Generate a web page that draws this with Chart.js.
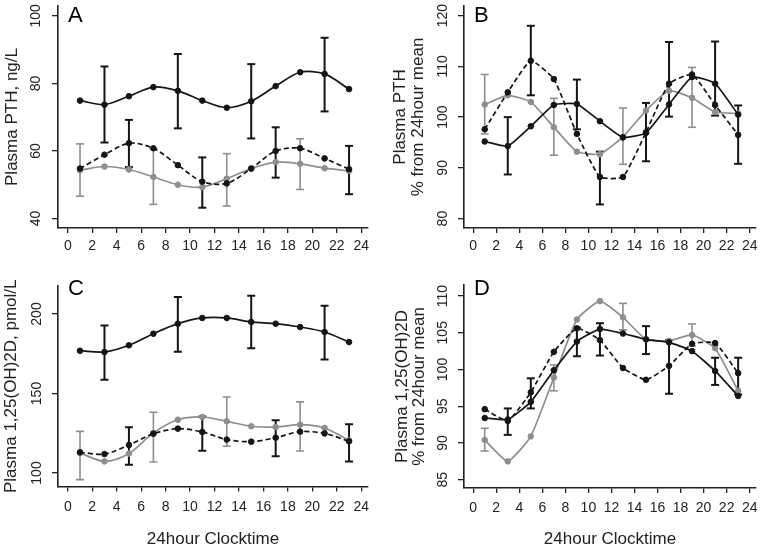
<!DOCTYPE html>
<html>
<head>
<meta charset="utf-8">
<script src="https://cdn.jsdelivr.net/npm/chart.js@4.4.1/dist/chart.umd.min.js"></script>
<style>
  html, body { margin: 0; padding: 0; background: #fff; overflow: hidden; }
  #wrap { position: relative; width: 762px; height: 546px; }
  canvas { position: absolute; }
</style>
</head>
<body>
<div id="wrap">
  <canvas id="pA" width="381" height="273" style="left:0;top:0"></canvas>
  <canvas id="pB" width="381" height="273" style="left:381px;top:0"></canvas>
  <canvas id="pC" width="381" height="273" style="left:0;top:273px"></canvas>
  <canvas id="pD" width="381" height="273" style="left:381px;top:273px"></canvas>
</div>
<script>
// clock hours of sampling, and axis ticks
const hours = [1, 3, 5, 7, 9, 11, 13, 15, 17, 19, 21, 23];
const xTicks = [0, 2, 4, 6, 8, 10, 12, 14, 16, 18, 20, 22, 24];
const solidErrHours = [3, 9, 15, 21];
const dashedErrHours = [5, 11, 17, 23];
const grayErrHours = [1, 7, 13, 19];

// A: plasma PTH ng/L
const aTicks = [40, 60, 80, 100];
const aSolid = [74.9, 73.7, 76.2, 78.9, 77.8, 74.9, 72.8, 74.7, 79.2, 83.3, 82.8, 78.3];
const aDashed = [54.8, 58.9, 62.3, 60.8, 55.8, 50.9, 50.4, 54.8, 60.0, 60.8, 57.8, 54.6];
const aGray = [54.3, 55.4, 54.5, 52.3, 50.0, 49.3, 51.8, 54.8, 56.7, 56.2, 54.9, 54.1];
const aSolidLo = [62.5, 66.7, 63.7, 71.7], aSolidHi = [85.0, 88.7, 85.7, 93.5];
const aDashedLo = [55.2, 43.2, 52.1, 47.2], aDashedHi = [69.2, 58.1, 67.0, 61.5];
const aGrayLo = [46.6, 44.2, 43.7, 48.6], aGrayHi = [62.1, 60.7, 59.2, 63.6];

// B: PTH % from 24h mean
const bTicks = [80, 90, 100, 110, 120];
const bSolid = [95.2, 94.3, 98.2, 102.4, 102.6, 99.2, 96.0, 96.9, 102.5, 107.9, 106.6, 100.5];
const bDashed = [97.6, 104.9, 111.1, 107.5, 96.7, 88.2, 88.2, 97.0, 106.6, 108.4, 102.4, 96.5];
const bGray = [102.5, 104.3, 103.0, 98.0, 93.2, 92.7, 96.1, 101.3, 105.2, 103.8, 101.0, 100.7];
const bSolidLo = [88.7, 97.6, 91.3, 100.3], bSolidHi = [100.0, 107.4, 102.8, 114.9];
const bDashedLo = [104.3, 82.8, 100.1, 90.8], bDashedHi = [118.0, 93.2, 114.8, 102.3];
const bGrayLo = [96.7, 92.5, 90.7, 98.0], bGrayHi = [108.4, 103.7, 101.8, 109.8];

// C: plasma 1,25(OH)2D pmol/L
const cTicks = [100, 150, 200];
const cSolid = [176.9, 176.1, 180.3, 187.6, 193.9, 197.5, 197.5, 195.0, 193.9, 191.8, 188.7, 182.4];
const cDashed = [113.0, 111.9, 117.6, 124.7, 127.9, 125.8, 121.0, 119.7, 122.2, 126.0, 124.9, 119.9];
const cGray = [112.6, 107.3, 112.2, 125.2, 133.5, 135.2, 132.5, 129.4, 128.9, 130.4, 128.3, 120.5];
const cSolidLo = [158.7, 176.3, 178.4, 171.3], cSolidHi = [192.7, 210.7, 211.5, 205.2];
const cDashedLo = [105.2, 114.0, 110.5, 107.3], cDashedHi = [128.7, 135.6, 133.1, 130.6];
const cGrayLo = [95.8, 106.9, 116.8, 113.8], cGrayHi = [126.2, 138.2, 147.8, 144.7];

// D: 1,25(OH)2D % from 24h mean
const dTicks = [85, 90, 95, 100, 105, 110];
const dSolid = [93.4, 93.2, 95.6, 99.9, 103.8, 105.5, 104.9, 104.1, 103.7, 102.5, 99.8, 96.4];
const dDashed = [94.6, 93.0, 96.9, 102.4, 105.6, 104.0, 100.2, 98.6, 100.5, 103.5, 103.6, 99.5];
const dGray = [90.4, 87.5, 90.9, 98.9, 106.8, 109.3, 107.1, 104.1, 103.9, 104.7, 102.9, 97.1];
const dSolidLo = [91.1, 101.8, 102.1, 97.9], dSolidHi = [94.7, 105.7, 105.9, 101.6];
const dDashedLo = [94.7, 101.9, 96.7, 96.6], dDashedHi = [98.8, 106.3, 104.0, 101.6];
const dGrayLo = [88.9, 97.1, 105.4, 103.2], dGrayHi = [92.0, 100.6, 109.0, 106.2];

const FONT = "'Liberation Sans', Arial, sans-serif";
const BLACK = '#151515';
const GRAY = '#8e8e8e';
Chart.defaults.font.family = FONT;

// letter in the upper left corner of each panel
const panelLetter = {
  id: 'panelLetter',
  afterDraw(chart, args, opts) {
    const ctx = chart.ctx;
    ctx.save();
    ctx.font = '22px ' + FONT;
    ctx.fillStyle = '#000';
    ctx.textBaseline = 'alphabetic';
    ctx.fillText(opts.text, chart.chartArea.left + 10, 21.5);
    ctx.restore();
  }
};

function pts(ys) {
  return hours.map((h, i) => ({ x: h, y: ys[i] }));
}

function errPts(xs, lo, hi) {
  const out = [];
  xs.forEach((x, i) => {
    out.push({ x: x, y: lo[i] }, { x: x, y: hi[i] }, { x: x, y: null });
  });
  return out;
}

function seriesSet(ys, color, dash, tension) {
  return {
    data: pts(ys),
    borderColor: color,
    backgroundColor: color,
    borderWidth: 1.7,
    borderDash: dash,
    tension: tension,
    pointRadius: 2.8,
    pointBorderWidth: 1,
    pointBackgroundColor: color,
    pointBorderColor: color
  };
}

function errSet(data, color, w) {
  return {
    data: data,
    borderColor: color,
    borderWidth: w,
    tension: 0,
    spanGaps: false,
    pointStyle: 'line',
    pointRadius: 4,
    pointBorderWidth: w,
    pointBorderColor: color
  };
}

function makePanel(id, p) {
  const datasets = [
    seriesSet(p.solid, BLACK, [], p.tension),
    seriesSet(p.dashed, BLACK, [5, 3], p.tension),
    seriesSet(p.gray, GRAY, [], p.tension),
    errSet(errPts(solidErrHours, p.solidLo, p.solidHi), BLACK, 2),
    errSet(errPts(dashedErrHours, p.dashedLo, p.dashedHi), BLACK, 2),
    errSet(errPts(grayErrHours, p.grayLo, p.grayHi), GRAY, 1.6)
  ];

  new Chart(document.getElementById(id).getContext('2d'), {
    type: 'line',
    data: { datasets: datasets },
    options: {
      responsive: false,
      animation: false,
      layout: { padding: { left: 0, right: p.padRight, top: p.padTop, bottom: 0 } },
      plugins: {
        legend: { display: false },
        tooltip: { enabled: false },
        panelLetter: { text: p.letter }
      },
      scales: {
        x: {
          type: 'linear',
          min: -0.8,
          max: 24.55,
          afterBuildTicks: s => { s.ticks = xTicks.map(v => ({ value: v })); },
          afterFit: s => { s.height = p.xHeight; s.paddingLeft = 0; s.paddingRight = 0; },
          grid: { drawOnChartArea: false, drawTicks: true, tickLength: 5, color: '#222', lineWidth: 1.3 },
          border: { display: true, color: '#222', width: 1.6 },
          ticks: {
            autoSkip: false, maxRotation: 0, padding: p.xPad, color: '#222',
            font: { size: 14 }, callback: v => String(v)
          },
          title: {
            display: !!p.xTitle, text: p.xTitle || '', color: '#222',
            font: { size: 17, lineHeight: 1.05 }, padding: { top: 0, bottom: -2 }
          }
        },
        y: {
          type: 'linear',
          min: p.yMin,
          max: p.yMax,
          afterBuildTicks: s => { s.ticks = p.yTicks.map(v => ({ value: v })); },
          afterFit: s => { s.width = p.yWidth; s.paddingTop = 0; s.paddingBottom = 0; },
          grid: { drawOnChartArea: false, drawTicks: true, tickLength: 6, color: '#222', lineWidth: 1.3 },
          border: { display: true, color: '#222', width: 1.6 },
          ticks: {
            minRotation: 90, maxRotation: 90, crossAlign: 'center', padding: p.yPad,
            color: '#222', font: { size: 14 }, callback: v => String(v)
          },
          title: {
            display: true, text: p.yTitle, color: '#222',
            font: { size: 17, lineHeight: 1.05 }, padding: { top: p.yTitlePad, bottom: 0 }
          }
        }
      }
    },
    plugins: [panelLetter]
  });
}

makePanel('pA', {
  letter: 'A', solid: aSolid, dashed: aDashed, gray: aGray,
  solidLo: aSolidLo, solidHi: aSolidHi, dashedLo: aDashedLo, dashedHi: aDashedHi,
  grayLo: aGrayLo, grayHi: aGrayHi,
  yTicks: aTicks, yMin: 37.2, yMax: 102.9, yTitle: 'Plasma PTH, ng/L', yTitlePad: 3,
  yWidth: 58, padRight: 13, padTop: 5, xHeight: 45, xPad: 5, yPad: 4.5, tension: 0.3
});

makePanel('pB', {
  letter: 'B', solid: bSolid, dashed: bDashed, gray: bGray,
  solidLo: bSolidLo, solidHi: bSolidHi, dashedLo: bDashedLo, dashedHi: bDashedHi,
  grayLo: bGrayLo, grayHi: bGrayHi,
  yTicks: bTicks, yMin: 78.15, yMax: 121.9, yTitle: ['Plasma PTH', '% from 24hour mean'], yTitlePad: 10.5,
  yWidth: 83, padRight: 3, padTop: 5, xHeight: 45, xPad: 5, yPad: 3, tension: 0.15
});

makePanel('pC', {
  letter: 'C', solid: cSolid, dashed: cDashed, gray: cGray,
  solidLo: cSolidLo, solidHi: cSolidHi, dashedLo: cDashedLo, dashedHi: cDashedHi,
  grayLo: cGrayLo, grayHi: cGrayHi,
  yTicks: cTicks, yMin: 91.5, yMax: 217.6, yTitle: 'Plasma 1,25(OH)2D, pmol/L', yTitlePad: 2,
  yWidth: 58, padRight: 13, padTop: 13, xHeight: 59.5, xPad: 7, yPad: 3.5, tension: 0.3,
  xTitle: '24hour Clocktime'
});

makePanel('pD', {
  letter: 'D', solid: dSolid, dashed: dDashed, gray: dGray,
  solidLo: dSolidLo, solidHi: dSolidHi, dashedLo: dDashedLo, dashedHi: dDashedHi,
  grayLo: dGrayLo, grayHi: dGrayHi,
  yTicks: dTicks, yMin: 83.87, yMax: 111.5, yTitle: ['Plasma 1,25(OH)2D', '% from 24hour mean'], yTitlePad: 12,
  yWidth: 83, padRight: 3, padTop: 12, xHeight: 58, xPad: 7, yPad: 3, tension: 0.15,
  xTitle: '24hour Clocktime'
});
</script>
</body>
</html>
